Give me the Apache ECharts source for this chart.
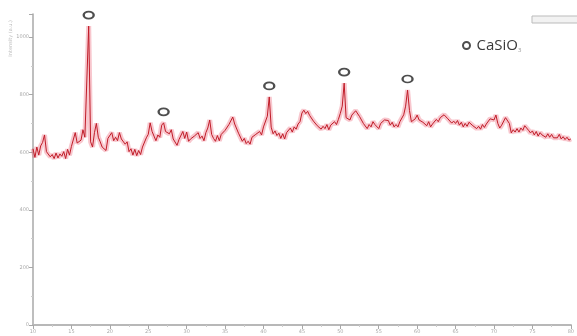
<!DOCTYPE html>
<html>
<head>
<meta charset="utf-8">
<script src="https://cdn.jsdelivr.net/npm/echarts@6/dist/echarts.min.js"></script>
<style>
  html, body { margin: 0; padding: 0; background: #fff; }
  #chart { width: 577px; height: 336px; }
</style>
</head>
<body>
<div id="chart"></div>
<script>
// XRD scan: 2θ from 10° to 80° in 0.25° steps
const scanStart = 10;
const scanStep = 0.25;
const intensity = [
  612, 582, 618, 590,
  622, 634, 660, 602,
  596, 584, 592, 578,
  597, 580, 594, 586,
  602, 578, 610, 590,
  620, 618, 668, 632,
  636, 642, 678, 652,
  650, 1038, 636, 618,
  668, 700, 652, 636,
  618, 620, 606, 648,
  646, 668, 640, 652,
  640, 668, 646, 640,
  628, 636, 602, 612,
  590, 610, 588, 606,
  592, 618, 624, 650,
  662, 702, 672, 656,
  640, 660, 652, 694,
  702, 672, 676, 664,
  678, 646, 648, 624,
  644, 642, 672, 648,
  670, 638, 646, 644,
  656, 654, 668, 648,
  656, 640, 668, 684,
  712, 662, 648, 638,
  658, 640, 662, 656,
  676, 672, 696, 700,
  722, 698, 694, 666,
  666, 638, 648, 630,
  638, 628, 652, 654,
  662, 656, 672, 660,
  688, 694, 725, 792,
  687, 664, 674, 658,
  666, 648, 664, 646,
  668, 662, 684, 670,
  688, 680, 698, 706,
  736, 746, 734, 742,
  728, 726, 708, 710,
  692, 696, 680, 690,
  682, 696, 678, 694,
  688, 706, 696, 714,
  735, 760, 840, 720,
  718, 712, 729, 730,
  744, 746, 724, 718,
  700, 700, 682, 696,
  688, 706, 696, 700,
  682, 700, 700, 712,
  706, 710, 694, 704,
  688, 696, 688, 706,
  705, 730, 760, 816,
  745, 706, 712, 716,
  729, 712, 718, 704,
  710, 692, 706, 688,
  698, 694, 714, 706,
  720, 714, 730, 729,
  716, 718, 701, 708,
  700, 710, 694, 704,
  688, 700, 690, 704,
  701, 692, 698, 682,
  690, 680, 696, 686,
  698, 694, 716, 722,
  712, 729, 700, 684,
  694, 696, 720, 722,
  700, 667, 678, 670,
  682, 670, 684, 676,
  692, 694, 676, 667,
  674, 660, 672, 656,
  668, 660, 666, 652,
  664, 652, 662, 650,
  656, 650, 662, 646,
  654, 644, 652, 642,
  646
];

// Reflections indexed to CaSiO3 (2θ, degrees)
const casio3Peaks = [17.25, 27.0, 40.75, 50.5, 58.75];

// Axis ticks
const xTicks = { min: 10, max: 80, interval: 5 };
const yTicks = { min: 0, max: 1080, interval: 200 };

const scan = intensity.map((v, i) => [scanStart + i * scanStep, v]);
const peakMarks = casio3Peaks.map(a => [a, intensity[Math.round((a - scanStart) / scanStep)]]);

const axisGray = '#a8a8a8';
const chart = echarts.init(document.getElementById('chart'), null, { renderer: 'canvas' });

chart.setOption({
  animation: false,
  backgroundColor: '#ffffff',
  grid: { left: 33, right: 0, top: 14, bottom: 11, containLabel: false },
  legend: {
    left: 457, top: 33,
    itemWidth: 10, itemHeight: 7,
    data: ['CaSiO3'],
    formatter: () => '{a|CaSiO}{s|3}',
    textStyle: {
      rich: {
        a: { fontFamily: 'Open Sans', fontSize: 15, color: '#3a3a3a' },
        s: { fontFamily: 'Open Sans', fontSize: 6, color: '#999', padding: [9, 0, 0, 0] }
      }
    }
  },
  xAxis: [{
    type: 'value',
    min: xTicks.min, max: xTicks.max, interval: xTicks.interval,
    axisLine: { show: true, onZero: false, lineStyle: { color: axisGray, width: 1.5 } },
    axisTick: { show: true, length: 4, lineStyle: { color: axisGray } },
    minorTick: { show: true, splitNumber: 2, length: 2, lineStyle: { color: '#ccc' } },
    axisLabel: { fontSize: 5, color: '#aaa', margin: 4, fontFamily: 'DejaVu Sans' },
    splitLine: { show: false }
  }, {
    type: 'value', position: 'top',
    min: xTicks.min, max: xTicks.max,
    axisLine: { show: true, lineStyle: { color: '#b8b8b8', width: 2 } },
    axisTick: { show: false }, axisLabel: { show: false }, splitLine: { show: false }
  }],
  yAxis: {
    type: 'value',
    min: yTicks.min, max: yTicks.max, interval: yTicks.interval,
    axisLine: { show: true, lineStyle: { color: axisGray, width: 1.5 } },
    axisTick: { show: true, length: 4, lineStyle: { color: axisGray } },
    minorTick: { show: true, splitNumber: 2, length: 2, lineStyle: { color: '#ccc' } },
    axisLabel: {
      fontSize: 5, color: '#aaa', margin: 4, showMaxLabel: false, fontFamily: 'DejaVu Sans',
      formatter: v => String(v)
    },
    splitLine: { show: false }
  },
  graphic: [
    {
      type: 'text', left: 8, top: 20, rotation: Math.PI / 2,
      style: { text: 'Intensity (a.u.)', fontSize: 5, fill: '#bbb', fontFamily: 'DejaVu Sans' }
    },
    {
      type: 'rect', shape: { x: 532, y: 16, width: 46, height: 7 },
      style: { fill: '#f2f2f2', stroke: '#bbb', lineWidth: 1 }
    }
  ],
  series: [
    {
      // soft halo under the trace
      type: 'line', data: scan, showSymbol: false, silent: true,
      lineStyle: { color: 'rgba(235,95,115,0.35)', width: 5 },
      z: 2
    },
    {
      type: 'line', data: scan, showSymbol: false,
      lineStyle: { color: '#c01c28', width: 1 },
      z: 3
    },
    {
      name: 'CaSiO3',
      type: 'scatter', data: peakMarks,
      symbol: 'circle', symbolSize: [10, 7], symbolOffset: [0, -11],
      itemStyle: { color: '#ffffff', borderColor: '#222', borderWidth: 2 },
      z: 4
    }
  ]
});
</script>
</body>
</html>
